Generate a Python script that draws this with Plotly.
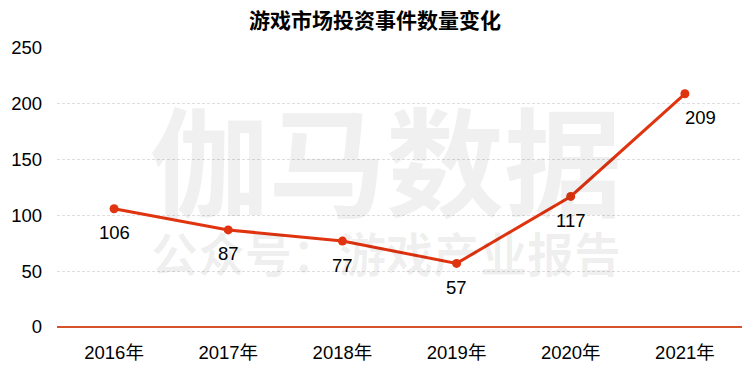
import plotly.graph_objects as go

years = ["2016年", "2017年", "2018年", "2019年", "2020年", "2021年"]
events = [106, 87, 77, 57, 117, 209]
y_ticks = [0, 50, 100, 150, 200, 250]

title_text = "游戏市场投资事件数量变化"
watermark_main = "伽马数据"
watermark_sub = "公众号：游戏产业报告"

LINE = "#E03410"
FONT = "Arial, 'Liberation Sans', 'Noto Sans CJK SC', sans-serif"
CJK = "'Noto Sans CJK SC', sans-serif"
WM = "rgba(0,0,0,0.06)"

fig = go.Figure()
fig.add_trace(go.Scatter(
    x=years, y=events, mode="lines+markers",
    line=dict(color=LINE, width=3),
    marker=dict(color=LINE, size=9),
    hoverinfo="x+y", showlegend=False,
))

annotations = [
    dict(x=0.48, y=0.61, xref="paper", yref="paper", xanchor="center", yanchor="middle",
         text="<b>" + watermark_main + "</b>",
         showarrow=False, font=dict(size=118, color=WM, family=CJK)),
    dict(x=0.48, y=0.27, xref="paper", yref="paper", xanchor="center", yanchor="middle",
         text="<b>" + watermark_sub + "</b>",
         showarrow=False, font=dict(size=47, color=WM, family=CJK)),
]
for i, (yr, v) in enumerate(zip(years, events)):
    annotations.append(dict(
        x=yr, y=v, xref="x", yref="y", text=str(v), showarrow=False,
        yshift=-24, xshift=16 if i == len(years) - 1 else 0,
        font=dict(size=18.5, color="#000000", family=FONT),
    ))

fig.update_layout(
    width=750, height=379,
    margin=dict(l=57, r=8, t=48, b=52, autoexpand=False),
    paper_bgcolor="white", plot_bgcolor="white",
    title=dict(text="<b>" + title_text + "</b>", x=0.5, xanchor="center",
               y=0.945, yanchor="middle", automargin=False,
               font=dict(size=21, color="#000000", family=CJK)),
    font=dict(family=FONT, color="#000000", size=18.5),
    annotations=annotations,
    xaxis=dict(
        range=[-0.5, len(years) - 0.5],
        showgrid=False, showline=False, zeroline=False, automargin=False,
        ticks="", tickfont=dict(size=18.5, family=FONT), ticklabelstandoff=12,
        fixedrange=True,
    ),
    yaxis=dict(
        range=[0, 250], tickvals=y_ticks, showgrid=True, automargin=False,
        gridcolor="#dedede", griddash="3px,2px", gridwidth=1,
        zeroline=True, zerolinecolor="#D4532A", zerolinewidth=1.5,
        showline=False, ticks="", ticklabelstandoff=14,
        tickfont=dict(size=18.5, family=FONT),
    ),
)

fig.write_html("out.html", config={"displayModeBar": False},
               post_script="document.body.style.margin='0';")
